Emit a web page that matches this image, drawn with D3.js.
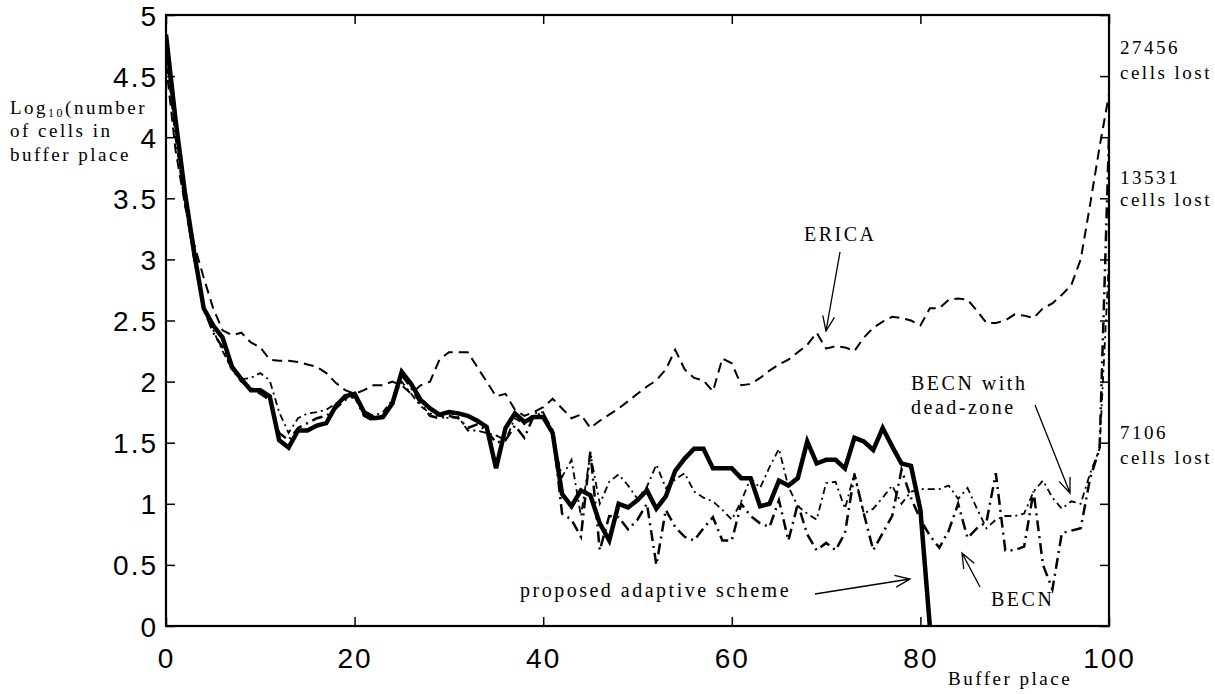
<!DOCTYPE html>
<html>
<head>
<meta charset="utf-8">
<script src="https://cdn.jsdelivr.net/npm/d3@7"></script>
<style>
  html, body { margin: 0; padding: 0; background: #fff; }
  svg { display: block; }
  .tick text { font-family: "Liberation Sans", Arial, sans-serif; font-size: 28px; letter-spacing: 2px; fill: #000; }
  .ann { font-family: "Liberation Serif", "Times New Roman", serif; fill: #000; letter-spacing: 2.5px; }
</style>
</head>
<body>
<script>
// ---------- data ----------
const xTicks = [0, 20, 40, 60, 80, 100];
const yTicks = [0, 0.5, 1, 1.5, 2, 2.5, 3, 3.5, 4, 4.5, 5];

// proposed adaptive scheme (thick solid), buffer place 0..81
const proposed = [4.84, 4.15, 3.55, 3.05, 2.6, 2.46, 2.36, 2.12, 2.02, 1.93,
  1.93, 1.88, 1.52, 1.46, 1.6, 1.6, 1.64, 1.66, 1.8, 1.88,
  1.9, 1.75, 1.7, 1.71, 1.82, 2.08, 1.98, 1.85, 1.78, 1.73,
  1.75, 1.74, 1.72, 1.68, 1.63, 1.29, 1.62, 1.74, 1.67, 1.71,
  1.71, 1.58, 1.08, 0.98, 1.11, 1.07, 0.84, 0.70, 1.0, 0.97,
  1.03, 1.11, 0.96, 1.06, 1.27, 1.37, 1.45, 1.45, 1.29, 1.29,
  1.29, 1.21, 1.21, 0.98, 1.0, 1.19, 1.15, 1.21, 1.51, 1.33,
  1.36, 1.36, 1.29, 1.54, 1.51, 1.44, 1.62, 1.47, 1.33, 1.31,
  0.95, 0.0];

// ERICA (dashed), 0..100
const erica = [4.6, 3.9, 3.45, 3.12, 2.85, 2.6, 2.42, 2.38, 2.4, 2.32,
  2.28, 2.18, 2.17, 2.17, 2.16, 2.14, 2.12, 2.07, 1.99, 1.93,
  1.9, 1.93, 1.97, 1.97, 2.0, 1.97, 1.9, 1.97, 2.0, 2.18,
  2.24, 2.24, 2.24, 2.12, 2.0, 1.88, 1.9, 1.77, 1.72, 1.75,
  1.79, 1.86, 1.78, 1.7, 1.73, 1.62, 1.68, 1.73, 1.78, 1.84,
  1.9, 1.96, 2.01, 2.1, 2.26, 2.1, 2.03, 2.01, 1.92, 2.19,
  2.15, 1.97, 1.98, 2.03, 2.09, 2.14, 2.18, 2.24, 2.3, 2.4,
  2.27, 2.29, 2.28, 2.25, 2.36, 2.44, 2.49, 2.53, 2.52, 2.5,
  2.46, 2.6, 2.6, 2.67, 2.68, 2.67, 2.58, 2.48, 2.48, 2.5,
  2.55, 2.54, 2.52, 2.6, 2.64, 2.71, 2.79, 3.0, 3.45, 3.92,
  4.35];

// BECN (heavy dash-dot), 0..100
const becn = [4.75, 4.1, 3.5, 3.0, 2.6, 2.4, 2.28, 2.1, 2.0, 1.95,
  1.9, 1.85, 1.58, 1.52, 1.62, 1.66, 1.7, 1.72, 1.78, 1.85,
  1.88, 1.72, 1.68, 1.72, 1.8, 2.05, 1.95, 1.82, 1.72, 1.7,
  1.72, 1.7, 1.62, 1.65, 1.6, 1.5, 1.52, 1.64, 1.54, 1.72,
  1.74, 1.6, 0.92, 0.87, 0.73, 1.43, 0.62, 0.9, 0.89, 0.79,
  0.87, 1.0, 0.5, 0.95, 0.81, 0.73, 0.7, 0.8, 0.89, 0.7,
  0.7, 1.0, 0.9, 0.84, 0.81, 1.03, 0.7, 1.0, 0.75, 0.62,
  0.68, 0.62, 0.76, 1.24, 0.92, 0.62, 0.76, 0.9, 1.28, 1.05,
  0.87, 0.74, 0.64, 0.78, 1.0, 0.72, 0.8, 0.85, 1.25, 0.62,
  0.62, 0.65, 1.1, 0.5, 0.3, 0.76, 0.78, 0.8, 1.21, 1.45,
  4.0];

// BECN with dead-zone (light dash-dot), 0..100
const deadZone = [4.7, 4.0, 3.45, 3.0, 2.62, 2.42, 2.25, 2.1, 2.02, 2.03,
  2.07, 2.01, 1.75, 1.58, 1.7, 1.74, 1.75, 1.77, 1.82, 1.86,
  1.87, 1.76, 1.72, 1.75, 1.85, 2.0, 1.9, 1.8, 1.74, 1.72,
  1.7, 1.71, 1.6, 1.6, 1.58, 1.56, 1.52, 1.7, 1.65, 1.74,
  1.75, 1.55, 1.22, 1.36, 0.9, 1.41, 1.0, 1.18, 1.24, 1.15,
  1.04, 1.14, 1.32, 1.13, 1.2, 1.25, 1.1, 1.05, 1.02, 0.95,
  0.87, 1.02, 1.21, 1.13, 1.3, 1.45, 1.14, 0.98, 0.92, 0.87,
  1.17, 1.18, 0.96, 1.25, 0.92, 0.96, 1.05, 1.15, 1.0, 1.1,
  1.12, 1.12, 1.12, 1.15, 1.04, 1.13, 0.96, 0.8, 0.87, 0.9,
  0.9, 0.92, 1.1, 1.19, 1.05, 0.96, 1.02, 1.0, 1.25, 1.45,
  3.0];

// ---------- layout ----------
const W = 1215, H = 694;
const L = 166, R = 1109, T = 15, B = 626;

const svg = d3.select("body").append("svg").attr("width", W).attr("height", H);
const x = d3.scaleLinear().domain([0, 100]).range([L, R]);
const y = d3.scaleLinear().domain([0, 5]).range([B, T]);

svg.append("defs").append("clipPath").attr("id", "clip")
  .append("rect").attr("x", L).attr("y", T - 2).attr("width", R - L).attr("height", B - T + 2);

const line = d3.line().x((d, i) => x(i)).y(d => y(d));
const g = svg.append("g").attr("clip-path", "url(#clip)");

g.append("path").datum(deadZone).attr("d", line).attr("fill", "none")
  .attr("stroke", "#000").attr("stroke-width", 1.8).attr("stroke-dasharray", "7,4,2,4");
g.append("path").datum(becn).attr("d", line).attr("fill", "none")
  .attr("stroke", "#000").attr("stroke-width", 2.5).attr("stroke-dasharray", "11,5,2,5");
g.append("path").datum(erica).attr("d", line).attr("fill", "none")
  .attr("stroke", "#000").attr("stroke-width", 2).attr("stroke-dasharray", "10,6");
g.append("path").datum(proposed).attr("d", line).attr("fill", "none")
  .attr("stroke", "#000").attr("stroke-width", 4.5).attr("stroke-linejoin", "miter");

// ---------- axes ----------
const fmt = d => String(d);
const xb = svg.append("g").attr("transform", `translate(0,${B})`)
  .call(d3.axisBottom(x).tickValues(xTicks).tickFormat(fmt).tickSizeInner(-9).tickSizeOuter(0).tickPadding(14));
xb.selectAll("text").attr("y", 42).attr("dy", 0);
const xt = svg.append("g").attr("transform", `translate(0,${T})`)
  .call(d3.axisTop(x).tickValues(xTicks).tickFormat("").tickSizeInner(-9).tickSizeOuter(0));
const yl = svg.append("g").attr("transform", `translate(${L},0)`)
  .call(d3.axisLeft(y).tickValues(yTicks).tickFormat(fmt).tickSizeInner(-9).tickSizeOuter(0).tickPadding(8));
yl.selectAll("text").attr("dy", "0.36em");
const yr = svg.append("g").attr("transform", `translate(${R},0)`)
  .call(d3.axisRight(y).tickValues(yTicks).tickFormat("").tickSizeInner(-9).tickSizeOuter(0));
[xb, xt, yl, yr].forEach(a => {
  a.select(".domain").remove();
  a.selectAll("line").attr("stroke", "#000").attr("stroke-width", 1.5);
});
svg.append("rect").attr("x", L).attr("y", T).attr("width", R - L).attr("height", B - T)
  .attr("fill", "none").attr("stroke", "#000").attr("stroke-width", 2.2);

// ---------- annotations ----------
function ann(txt, px, py, size) {
  return svg.append("text").attr("class", "ann").attr("x", px).attr("y", py)
    .attr("font-size", size).text(txt);
}
const lab = svg.append("text").attr("class", "ann").attr("x", 10).attr("y", 114).attr("font-size", 19);
lab.append("tspan").text("Log");
lab.append("tspan").attr("font-size", 12).attr("dy", 3).text("10");
lab.append("tspan").attr("dy", -3).text("(number");
ann("of cells in", 10, 137, 19);
ann("buffer place", 10, 161, 19);

ann("27456", 1120, 54, 19);
ann("cells lost", 1120, 79, 19);
ann("13531", 1120, 184, 19);
ann("cells lost", 1120, 206, 19);
ann("7106", 1120, 439, 19);
ann("cells lost", 1120, 464, 19);

ann("Buffer place", 948, 685, 19);
ann("ERICA", 804, 241, 20);
ann("BECN with", 911, 390, 20);
ann("dead-zone", 911, 414, 20);
ann("BECN", 991, 606, 20);
ann("proposed adaptive scheme", 520, 597, 20);

function arrow(x1, y1, x2, y2) {
  const a = Math.atan2(y2 - y1, x2 - x1), len = 16, sp = 0.38;
  const p = d3.path();
  p.moveTo(x1, y1); p.lineTo(x2, y2);
  p.moveTo(x2 - len * Math.cos(a - sp), y2 - len * Math.sin(a - sp));
  p.lineTo(x2, y2);
  p.lineTo(x2 - len * Math.cos(a + sp), y2 - len * Math.sin(a + sp));
  svg.append("path").attr("d", p.toString()).attr("fill", "none")
    .attr("stroke", "#000").attr("stroke-width", 1.3);
}
arrow(840, 252, 826, 331);
arrow(1035, 405, 1070, 493);
arrow(980, 587, 962, 553);
arrow(815, 594, 910, 579);
</script>
</body>
</html>
